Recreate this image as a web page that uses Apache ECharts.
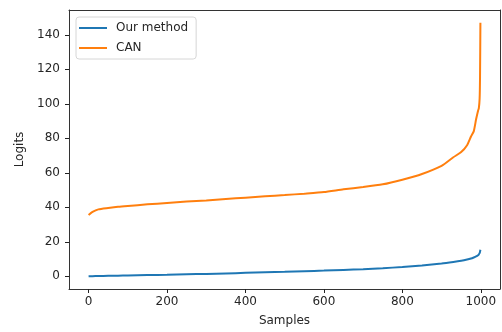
<!DOCTYPE html>
<html>
<head>
<meta charset="utf-8">
<script src="https://cdn.jsdelivr.net/npm/echarts@6/dist/echarts.min.js"></script>
<style>
  html, body { margin: 0; padding: 0; background: #fff; }
  #chart { width: 502px; height: 332px; }
</style>
</head>
<body>
<div id="chart"></div>
<script>
// sample index (sorted logits)
const samples = [0, 10, 25, 50, 75, 100, 150, 200, 250, 300, 350, 400, 450, 500, 550, 600,
  650, 700, 750, 800, 850, 900, 930, 950, 965, 975, 982, 988, 993, 995, 997, 998, 999];
const ourMethod = [0, 0.1, 0.2, 0.3, 0.4, 0.5, 0.7, 0.9, 1.2, 1.4, 1.7, 2.0, 2.3, 2.6, 3.0, 3.3,
  3.7, 4.1, 4.7, 5.4, 6.3, 7.4, 8.3, 9.0, 9.7, 10.3, 10.9, 11.5, 12.2, 12.7, 13.4, 14.2, 15.4];
const canValues = [35.5, 37.3, 38.8, 39.6, 40.3, 40.8, 41.7, 42.5, 43.3, 44.0, 44.8, 45.6, 46.4, 47.1, 47.9, 48.8,
  50.4, 51.7, 53.3, 56.0, 59.3, 64.0, 69.0, 72.0, 76.0, 81.0, 84.0, 91.0, 96.0, 97.5, 103, 115, 147];
const xTicks = [0, 200, 400, 600, 800, 1000];
const yTicks = [0, 20, 40, 60, 80, 100, 120, 140];

const chart = echarts.init(document.getElementById('chart'));
const font = 'DejaVu Sans';
const ink = '#262626';

function pairs(vals) {
  return samples.map((s, i) => [s, vals[i]]);
}

const frameLine = { show: true, onZero: false, lineStyle: { color: '#333', width: 1 } };
const tickStyle = { show: true, inside: false, length: 4, lineStyle: { color: '#222', width: 1 } };
// top / right spines only
function spine(position, min, max) {
  return {
    type: 'value', position: position, min: min, max: max,
    axisLine: frameLine, axisTick: { show: false }, axisLabel: { show: false }, splitLine: { show: false }
  };
}

const option = {
  animation: false,
  textStyle: { fontFamily: font },
  grid: { left: 69, top: 10, right: 2, bottom: 40 },
  legend: {
    orient: 'vertical', left: 76, top: 17,
    itemWidth: 28, itemHeight: 2, itemGap: 8,
    padding: [5, 8, 5, 3],
    backgroundColor: '#fff', borderColor: '#d6d6d6', borderWidth: 1, borderRadius: 3,
    textStyle: { fontFamily: font, fontSize: 12, color: ink, padding: [0, 0, 0, 4] },
    data: [{ name: 'Our method', icon: 'rect' }, { name: 'CAN', icon: 'rect' }]
  },
  xAxis: [{
    type: 'value', position: 'bottom', min: -49.95, max: 1048.95,
    name: 'Samples', nameLocation: 'middle', nameGap: 26,
    nameTextStyle: { fontFamily: font, fontSize: 12, color: ink },
    axisLine: frameLine,
    splitLine: { show: false },
    axisTick: Object.assign({ customValues: xTicks }, tickStyle),
    axisLabel: { customValues: xTicks, margin: 7, fontFamily: font, fontSize: 12, color: ink,
      formatter: v => String(v) }
  }, spine('top', -49.95, 1048.95)],
  yAxis: [{
    type: 'value', position: 'left', min: -7.35, max: 154.35,
    name: 'Logits', nameLocation: 'middle', nameGap: 42, nameRotate: 90,
    nameTextStyle: { fontFamily: font, fontSize: 12, color: ink },
    axisLine: frameLine,
    splitLine: { show: false },
    axisTick: Object.assign({ customValues: yTicks }, tickStyle),
    axisLabel: { customValues: yTicks, margin: 9, fontFamily: font, fontSize: 12, color: ink,
      formatter: v => String(v) }
  }, spine('right', -7.35, 154.35)],
  series: [
    {
      name: 'Our method', type: 'line', data: pairs(ourMethod),
      symbol: 'none', smooth: 0.2,
      lineStyle: { color: '#1f77b4', width: 2 }, itemStyle: { color: '#1f77b4' }
    },
    {
      name: 'CAN', type: 'line', data: pairs(canValues),
      symbol: 'none', smooth: 0.2,
      lineStyle: { color: '#ff7f0e', width: 2 }, itemStyle: { color: '#ff7f0e' }
    }
  ]
};

chart.setOption(option);
</script>
</body>
</html>
